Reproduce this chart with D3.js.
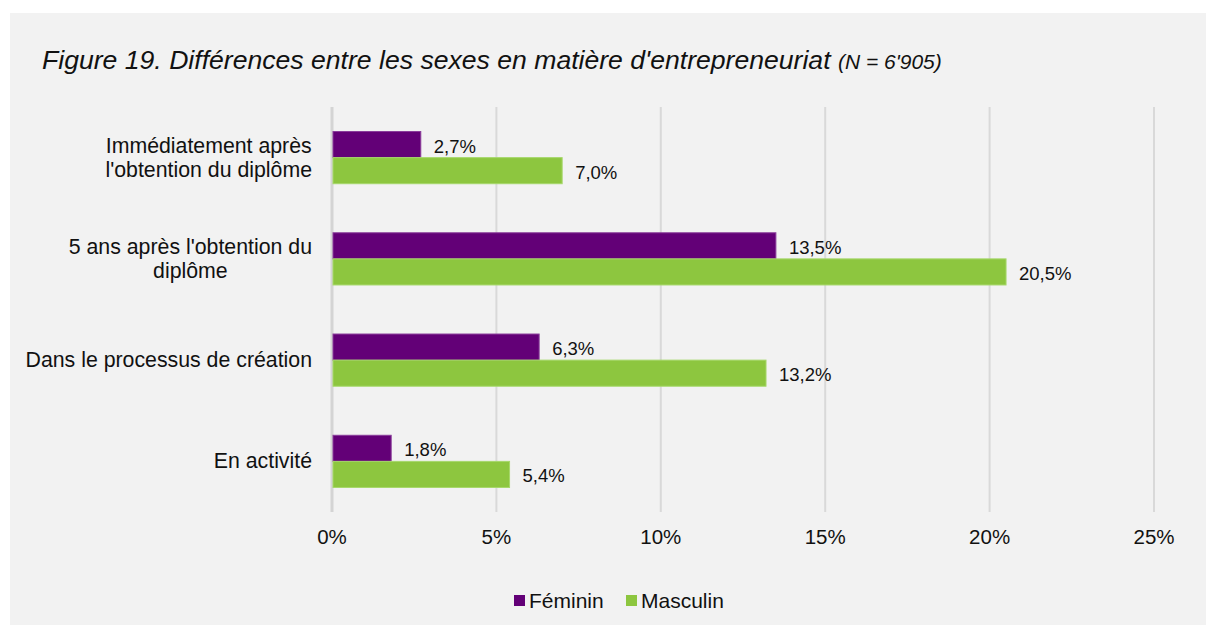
<!DOCTYPE html>
<html>
<head>
<meta charset="utf-8">
<script src="https://cdn.jsdelivr.net/npm/d3@7"></script>
<style>
  body { margin: 0; background: #fff; }
  text { font-family: "Liberation Sans", Arial, sans-serif; fill: #111; }
</style>
</head>
<body>
<div class="graph"></div>
<script>
const categories = [
  ["Immédiatement après", "l'obtention du diplôme"],
  ["5 ans après l'obtention du", "diplôme"],
  ["Dans le processus de création"],
  ["En activité"]
];
const seriesNames = ['Féminin', 'Masculin'];
const feminin = [2.7, 13.5, 6.3, 1.8];
const masculin = [7.0, 20.5, 13.2, 5.4];
const xTicks = [0, 5, 10, 15, 20, 25];
const colors = ['#630077', '#8dc63f'];

const width = 1206, height = 626;
const margin = { top: 107, right: 52, bottom: 114, left: 332 };

const svg = d3.select('.graph').append('svg')
  .attr('width', width)
  .attr('height', height);

svg.append('rect')
  .attr('x', 10).attr('y', 13)
  .attr('width', width - 10).attr('height', 612)
  .attr('fill', '#f2f2f2');

svg.append('text')
  .attr('x', 42).attr('y', 69)
  .attr('font-size', 26.6)
  .attr('font-style', 'italic')
  .text('Figure 19. Différences entre les sexes en matière d\'entrepreneuriat ')
  .append('tspan')
  .attr('font-size', 21)
  .text('(N = 6\'905)');

const x = d3.scaleLinear()
  .domain([0, 25])
  .range([margin.left, width - margin.right]);

const y = d3.scaleBand()
  .domain(d3.range(categories.length))
  .range([margin.top, height - margin.bottom]);

const sub = d3.scaleBand()
  .domain([0, 1])
  .range([0, y.bandwidth()])
  .paddingInner(0)
  .paddingOuter(0.94);

// gridlines
svg.append('g')
  .selectAll('line')
  .data(xTicks.slice(1))
  .join('line')
  .attr('x1', d => x(d)).attr('x2', d => x(d))
  .attr('y1', margin.top).attr('y2', height - margin.bottom)
  .attr('stroke', '#d9d9d9')
  .attr('stroke-width', 2);

svg.append('line')
  .attr('x1', x(0)).attr('x2', x(0))
  .attr('y1', margin.top).attr('y2', height - margin.bottom)
  .attr('stroke', '#d4d4d4')
  .attr('stroke-width', 3);

// x tick labels
svg.append('g')
  .selectAll('text')
  .data(xTicks)
  .join('text')
  .attr('x', d => x(d))
  .attr('y', 544)
  .attr('text-anchor', 'middle')
  .attr('font-size', 20.5)
  .text(d => d + '%');

const series = [feminin, masculin];
const fmt = v => d3.format('.1f')(v).replace('.', ',') + '%';

series.forEach((vals, s) => {
  const g = svg.append('g');
  g.selectAll('rect')
    .data(vals)
    .join('rect')
    .attr('x', x(0) + 1)
    .attr('y', (d, i) => y(i) + sub(s))
    .attr('width', d => x(d) - x(0) - 1)
    .attr('height', sub.bandwidth())
    .attr('fill', colors[s])
    .attr('stroke', s === 0 ? '#8a3c9a' : '#a6d86a')
    .attr('stroke-width', 1);
  g.selectAll('text')
    .data(vals)
    .join('text')
    .attr('x', d => x(d) + 13)
    .attr('y', (d, i) => y(i) + sub(s) + sub.bandwidth() / 2 + 8)
    .attr('font-size', 18.5)
    .text(d => fmt(d));
});

// category labels, wrapped, lines centred in block right-aligned to axis
categories.forEach((lines, i) => {
  const cy = y(i) + y.bandwidth() / 2;
  const lh = 24;
  const g = svg.append('g');
  const texts = lines.map((l, k) => g.append('text')
    .attr('font-size', 21.3)
    .attr('y', cy + (k - (lines.length - 1) / 2) * lh + 7)
    .text(l));
  const widths = texts.map(t => t.node().getComputedTextLength());
  const maxW = d3.max(widths);
  const right = 312;
  texts.forEach(t => {
    t.attr('x', right - maxW / 2).attr('text-anchor', 'middle');
  });
});

// legend
const legend = svg.append('g').attr('transform', 'translate(514,595)');
const legendX = [0, 112];
seriesNames.forEach((name, s) => {
  legend.append('rect')
    .attr('x', legendX[s]).attr('y', 0)
    .attr('width', 11).attr('height', 11)
    .attr('fill', colors[s]);
  legend.append('text')
    .attr('x', legendX[s] + 15).attr('y', 13)
    .attr('font-size', 21)
    .text(name);
});
</script>
</body>
</html>
